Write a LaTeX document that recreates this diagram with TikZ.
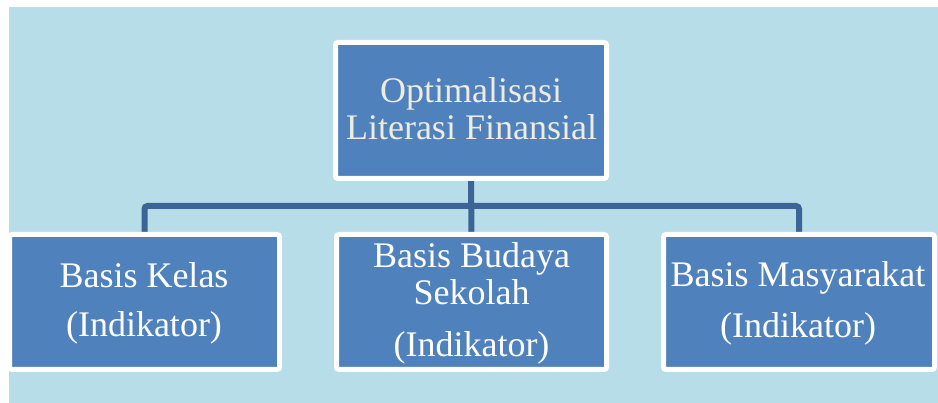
\documentclass[tikz,border=0pt]{standalone}
\usepackage{fontspec}
\setmainfont{Liberation Serif}
\usetikzlibrary{backgrounds}
\definecolor{bgblue}{HTML}{B7DDE8}
\definecolor{boxblue}{HTML}{4F81BD}
\definecolor{connblue}{HTML}{3C6496}
\definecolor{cream}{HTML}{EEECE1}
\tikzset{
  boxnode/.style={rectangle, fill=boxblue, draw=white, line width=5pt, rounded corners=2.5pt, outer sep=0pt, inner sep=0pt},
  conn/.style={draw=connblue, line width=6pt, rounded corners=3pt},
  txt/.style={anchor=base, inner sep=0pt, font=\fontsize{36}{36}\selectfont, text=white},
  toptxt/.style={txt, text=cream}
}
\begin{document}
\begin{tikzpicture}[x=1pt, y=-1pt]
\useasboundingbox (0,0) rectangle (938,403);
% boxes
\node[boxnode, minimum width=271pt, minimum height=136pt] (top) at (471,110.5) {};
\node[boxnode, minimum width=270pt, minimum height=135pt] (lb) at (144.5,302) {};
\node[boxnode, minimum width=270pt, minimum height=135pt] (mb) at (471.5,302) {};
\node[boxnode, minimum width=271pt, minimum height=135pt] (rb) at (799,302) {};
\coordinate (hy) at (0,206);
\begin{scope}[on background layer]
  \fill[white] (0,0) rectangle (938,403);
  \fill[bgblue] (9,7) rectangle (938,403);
  \draw[conn] (lb.north) -- (lb.north |- hy) -- (rb.north |- hy) -- (rb.north);
  \draw[conn] (top.south) -- (mb.north);
\end{scope}
% texts
\node[toptxt] (t1) at (471,103) {Optimalisasi};
\node[toptxt] (t2) at (471.5,140) {Literasi Finansial};
\node[txt] (l1) at (144,288) {Basis Kelas};
\node[txt] (l2) at (144,337) {(Indikator)};
\node[txt] (m1) at (471.5,268) {Basis Budaya};
\node[txt] (m2) at (471.5,305) {Sekolah};
\node[txt] (m3) at (471.5,357) {(Indikator)};
\node[txt] (r1) at (798,287) {Basis Masyarakat};
\node[txt] (r2) at (798,338) {(Indikator)};
\end{tikzpicture}
\end{document}
